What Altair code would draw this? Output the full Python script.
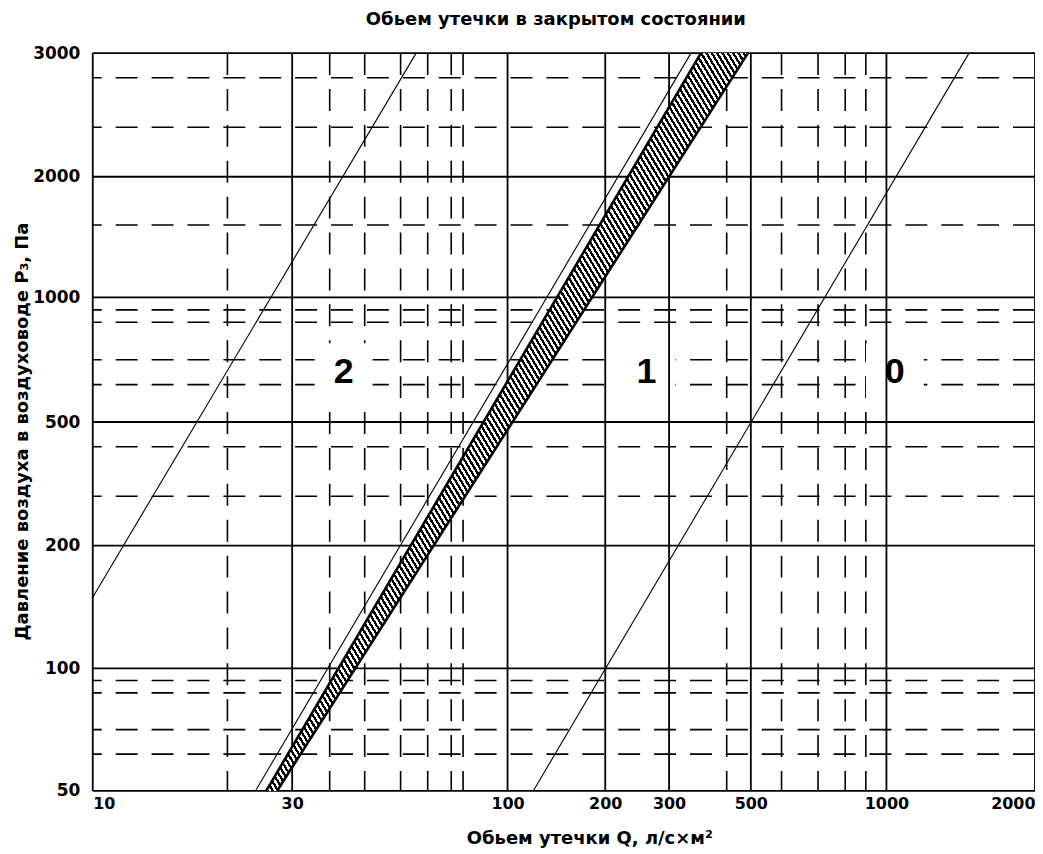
import altair as alt
import pandas as pd

# ---------------- data ----------------
# axis tick values (solid grid lines)
q_major = [10, 30, 100, 200, 300, 500, 1000, 2000]
p_major = [50, 100, 200, 500, 1000, 2000, 3000]
# dashed grid lines
q_minor = [21, 37, 45, 55, 64, 73, 78, 430, 585, 705, 810, 900]
p_minor = [2800, 2400, 1600, 950, 900, 750, 650, 440, 320, 95, 90, 75, 65]

# leakage class lines (endpoints)
class2_q = [10, 60]
class2_p = [158, 3000]
upper_q = [24.5, 344]
upper_p = [50, 3000]
class0_q = [120, 1470]
class0_p = [50, 3000]

# hatched band
band_p = [50, 3000]
band_left_q = [26.0, 366]
band_right_q = [27.6, 491]

# class labels
class_labels = ["2", "1", "0"]
class_label_q = [40, 260, 1040]
class_label_p = [700, 700, 700]

title_text = "Обьем утечки в закрытом состоянии"
x_title = "Обьем утечки Q, л/с×м²"
y_title = "Давление воздуха в воздуховоде P₃, Па"

# ---------------- tables ----------------
df_qmaj = pd.DataFrame({"Q": q_major})
df_pmaj = pd.DataFrame({"P": p_major})
df_qmin = pd.DataFrame({"Q": q_minor})
df_pmin = pd.DataFrame({"P": p_minor})
df_thin = pd.concat([
    pd.DataFrame({"Q": class2_q, "P": class2_p, "s": "class2"}),
    pd.DataFrame({"Q": upper_q, "P": upper_p, "s": "upper"}),
    pd.DataFrame({"Q": class0_q, "P": class0_p, "s": "class0"}),
], ignore_index=True)
df_band = pd.DataFrame({"P": band_p, "Q": band_left_q, "Q2": band_right_q})
df_edges = pd.concat([
    pd.DataFrame({"Q": band_left_q, "P": band_p, "s": "left"}),
    pd.DataFrame({"Q": band_right_q, "P": band_p, "s": "right"}),
], ignore_index=True)
df_lab = pd.DataFrame({"Q": class_label_q, "P": class_label_p, "t": class_labels})

# ---------------- scales / axes (the chart's uneven printed scales) ----------------
W, H = 945, 740
xs = alt.Scale(type="log", domain=q_major,
               range=[0, 200, 416, 514, 578, 660, 796, 945], nice=False, zero=False)
ys = alt.Scale(type="linear", domain=p_major,
               range=[740, 617, 494, 370, 245, 124, 0], nice=False, zero=False)

xaxis = alt.Axis(values=q_major, format="d", grid=False, domain=False, ticks=False,
                 tickSize=0, labelFlush=True, labelPadding=5, labelFontSize=16,
                 titleX=498, titleY=53, titleBaseline="alphabetic", titleAlign="center")
yaxis = alt.Axis(values=p_major, format="d", grid=False, domain=False, ticks=False,
                 tickSize=0, labelPadding=13, labelFontSize=17,
                 titleX=-70, titleY=379, titleAngle=270, titleBaseline="middle",
                 titleAlign="center")

X = alt.X("Q:Q", scale=xs, axis=xaxis, title=x_title)
X2 = alt.X2("Q2:Q")
Y = alt.Y("P:Q", scale=ys, axis=yaxis, title=y_title)

DASH = [22, 14]

minor_v = alt.Chart(df_qmin).mark_rule(color="black", strokeWidth=1.6, strokeDash=DASH).encode(x=X)
minor_h = alt.Chart(df_pmin).mark_rule(color="black", strokeWidth=1.6, strokeDash=DASH).encode(y=Y)
major_v = alt.Chart(df_qmaj).mark_rule(color="black", strokeWidth=1.8).encode(x=X)
major_h = alt.Chart(df_pmaj).mark_rule(color="black", strokeWidth=1.8).encode(y=Y)

# white clearing behind the class numbers (covers the dashed grid)
boxes = alt.Chart(df_lab).mark_square(
    size=3364, filled=True, color="white", opacity=1, strokeWidth=0
).encode(x=X, y=Y)

# hatch pattern for the band, built as a striped linear gradient (style only)
N_STRIPES = 173
stops = []
for i in range(N_STRIPES):
    a = i / N_STRIPES
    b = (i + 0.5) / N_STRIPES
    c = (i + 1) / N_STRIPES
    stops += [{"offset": a, "color": "black"}, {"offset": b, "color": "black"},
              {"offset": b, "color": "white"}, {"offset": c, "color": "white"}]
hatch = {"gradient": "linear", "x1": 0, "y1": 1, "x2": 1.0395, "y2": 0.0429, "stops": stops}

band = alt.Chart(df_band).mark_area(orient="horizontal", fill=hatch, opacity=1,
                                    strokeWidth=0).encode(y=Y, x=X, x2=X2)
edges = alt.Chart(df_edges).mark_line(color="black", strokeWidth=2.6).encode(
    x=X, y=Y, detail="s:N")
thin = alt.Chart(df_thin).mark_line(color="black", strokeWidth=1.1).encode(
    x=X, y=Y, detail="s:N")

labels = alt.Chart(df_lab).mark_text(
    font="Liberation Sans", fontWeight="bold", fontSize=36, color="black",
    align="center", baseline="middle"
).encode(x=X, y=Y, text="t:N")

chart = alt.layer(
    minor_v, minor_h, boxes, major_v, major_h, band, edges, thin, labels
).properties(
    width=W, height=H,
    title=alt.TitleParams(title_text, font="DejaVu Sans", fontWeight="bold",
                          fontSize=18, color="black", offset=15, dx=-8, anchor="middle"),
    padding={"left": 85, "top": 44, "right": 0, "bottom": 58},
    autosize=alt.AutoSizeParams(type="none"),
    background="white",
).configure_view(strokeWidth=0).configure_axis(
    labelFont="DejaVu Sans", labelFontWeight="bold", labelColor="black",
    titleFont="DejaVu Sans", titleFontWeight="bold", titleFontSize=18, titleColor="black",
)

chart.save("out.html", embed_options={"renderer": "svg", "actions": False})
